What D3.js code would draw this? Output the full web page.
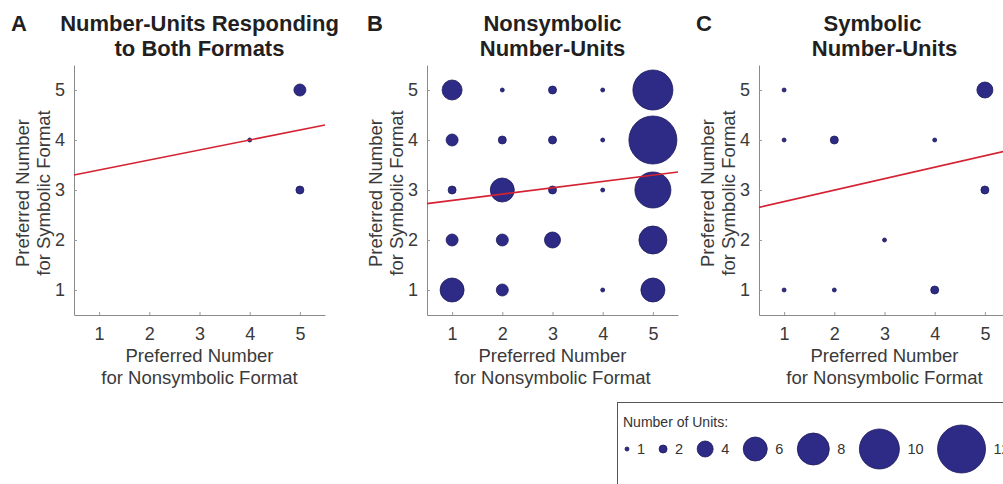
<!DOCTYPE html>
<html>
<head>
<meta charset="utf-8">
<script src="https://cdn.jsdelivr.net/npm/d3@7"></script>
<style>
  html, body { margin: 0; padding: 0; background: #fff; }
  svg { display: block; font-family: "Liberation Sans", Arial, sans-serif; }
</style>
</head>
<body>
<svg id="chart" width="1003" height="484"></svg>
<script>
// Preferred numerosity values on both axes
const numbers = [1, 2, 3, 4, 5];

// Unit counts per cell: rows = symbolic preference 5..1, columns = nonsymbolic preference 1..5
const bothCounts = [
  [0, 0, 0, 0, 3],
  [0, 0, 0, 1, 0],
  [0, 0, 0, 0, 2],
  [0, 0, 0, 0, 0],
  [0, 0, 0, 0, 0]
];
const nonsymbolicCounts = [
  [5, 1, 2, 1, 10],
  [3, 2, 2, 1, 12],
  [2, 6, 2, 1, 9],
  [3, 3, 4, 0, 7],
  [6, 3, 0, 1, 6]
];
const symbolicCounts = [
  [1, 0, 0, 0, 4],
  [1, 2, 0, 1, 0],
  [0, 0, 0, 0, 2],
  [0, 0, 1, 0, 0],
  [1, 1, 0, 2, 0]
];
const rowValues = [5, 4, 3, 2, 1];

const panelLetters = ["A", "B", "C"];
const panelTitles = [
  ["Number-Units Responding", "to Both Formats"],
  ["Nonsymbolic", "Number-Units"],
  ["Symbolic", "Number-Units"]
];
const xLabelLines = ["Preferred Number", "for Nonsymbolic Format"];
const yLabelLines = ["Preferred Number", "for Symbolic Format"];
const legendTitle = "Number of Units:";
const legendCounts = [1, 2, 4, 6, 8, 10, 12];

// Layout
const panelLeft = [74, 427, 759];
const plotW = 251, plotTop = 65, plotBottom = 315;
const titleShift = [[0, 0], [0, 0], [-12, 0]];
const dotFill = "#2d2b86", dotStroke = "#1d1b5c";
const fitColor = "#d42233";

const svg = d3.select("#chart");
const rScale = d3.scaleLinear().domain([0, 12]).range([0, 24]);

function toPoints(grid) {
  const pts = [];
  grid.forEach((row, i) => row.forEach((n, j) => {
    if (n > 0) pts.push({ x: numbers[j], y: rowValues[i], n });
  }));
  return pts;
}

// Least-squares line weighted by unit counts
function fit(pts) {
  const N = d3.sum(pts, d => d.n);
  const mx = d3.sum(pts, d => d.n * d.x) / N;
  const my = d3.sum(pts, d => d.n * d.y) / N;
  const sxy = d3.sum(pts, d => d.n * (d.x - mx) * (d.y - my));
  const sxx = d3.sum(pts, d => d.n * (d.x - mx) * (d.x - mx));
  const b = sxy / sxx;
  return { a: my - b * mx, b };
}

const datasets = [bothCounts, nonsymbolicCounts, symbolicCounts];
const fmt = d3.format("d");

datasets.forEach((grid, k) => {
  const left = panelLeft[k];
  const x = d3.scaleLinear().domain([0.5, 5.5]).range([left, left + plotW]);
  const y = d3.scaleLinear().domain([0.5, 5.5]).range([plotBottom, plotTop]);
  const g = svg.append("g");

  // axes
  const xAxis = g.append("g").attr("transform", `translate(0,${plotBottom})`)
    .call(d3.axisBottom(x).tickValues(numbers).tickFormat(fmt)
      .tickSizeInner(-3).tickSizeOuter(0).tickPadding(14));
  const yAxis = g.append("g").attr("transform", `translate(${left},0)`)
    .call(d3.axisLeft(y).tickValues(numbers).tickFormat(fmt)
      .tickSizeInner(-3).tickSizeOuter(0).tickPadding(9));
  [xAxis, yAxis].forEach(ax => {
    ax.select(".domain").attr("stroke", "#8a8a8a").attr("stroke-width", 1);
    ax.selectAll(".tick line").attr("stroke", "#9a9a9a");
    ax.selectAll(".tick text").attr("fill", "#3a3a3a").attr("font-size", 18)
      .attr("font-family", "Liberation Sans, Arial, sans-serif");
  });
  xAxis.selectAll(".tick text").attr("dy", "0.6em");

  // bubbles
  const pts = toPoints(grid);
  g.selectAll("circle.dot").data(pts).join("circle")
    .attr("class", "dot")
    .attr("cx", d => x(d.x)).attr("cy", d => y(d.y))
    .attr("r", d => rScale(d.n))
    .attr("fill", dotFill).attr("stroke", dotStroke).attr("stroke-width", 0.8);

  // regression line
  const f = fit(pts);
  g.append("line")
    .attr("x1", x(0.5)).attr("y1", y(f.a + f.b * 0.5))
    .attr("x2", x(5.5)).attr("y2", y(f.a + f.b * 5.5))
    .attr("stroke", fitColor).attr("stroke-width", 1.6);

  // axis titles
  const cx = left + plotW / 2;
  g.append("text").attr("x", cx).attr("y", 362)
    .attr("text-anchor", "middle").attr("font-size", 18.5).attr("fill", "#3a3a3a")
    .text(xLabelLines[0]);
  g.append("text").attr("x", cx).attr("y", 384)
    .attr("text-anchor", "middle").attr("font-size", 18.5).attr("fill", "#3a3a3a")
    .text(xLabelLines[1]);
  const cy = (plotTop + plotBottom) / 2 + 3;
  g.append("text").attr("transform", `translate(${left - 45},${cy}) rotate(-90)`)
    .attr("text-anchor", "middle").attr("font-size", 18.5).attr("fill", "#3a3a3a")
    .text(yLabelLines[0]);
  g.append("text").attr("transform", `translate(${left - 24},${cy}) rotate(-90)`)
    .attr("text-anchor", "middle").attr("font-size", 18.5).attr("fill", "#3a3a3a")
    .text(yLabelLines[1]);

  // panel titles
  panelTitles[k].forEach((line, i) => {
    g.append("text").attr("x", cx + titleShift[k][i]).attr("y", 31 + i * 25)
      .attr("text-anchor", "middle").attr("font-size", 22).attr("font-weight", "bold")
      .attr("fill", "#231f20").text(line);
  });
});

// panel letters
const letterX = [11, 367, 696];
panelLetters.forEach((L, i) => {
  svg.append("text").attr("x", letterX[i]).attr("y", 31)
    .attr("font-size", 22).attr("font-weight", "bold").attr("fill", "#231f20").text(L);
});

// size legend
const lg = svg.append("g");
lg.append("rect").attr("x", 617.5).attr("y", 402.5).attr("width", 500).attr("height", 200)
  .attr("fill", "#fff").attr("stroke", "#555").attr("stroke-width", 1);
lg.append("text").attr("x", 623).attr("y", 427).attr("font-size", 14).attr("fill", "#333")
  .text(legendTitle);
let cursor = 625;
const rowY = 449;
legendCounts.forEach(n => {
  const r = rScale(n);
  const cxL = cursor + r;
  lg.append("circle").attr("cx", cxL).attr("cy", rowY).attr("r", r)
    .attr("fill", dotFill).attr("stroke", dotStroke).attr("stroke-width", 0.8);
  const t = lg.append("text").attr("x", cxL + r + 8).attr("y", rowY + 5)
    .attr("font-size", 14.5).attr("fill", "#333").text(n);
  cursor = cxL + r + 8 + t.node().getComputedTextLength() + 14;
});
</script>
</body>
</html>
